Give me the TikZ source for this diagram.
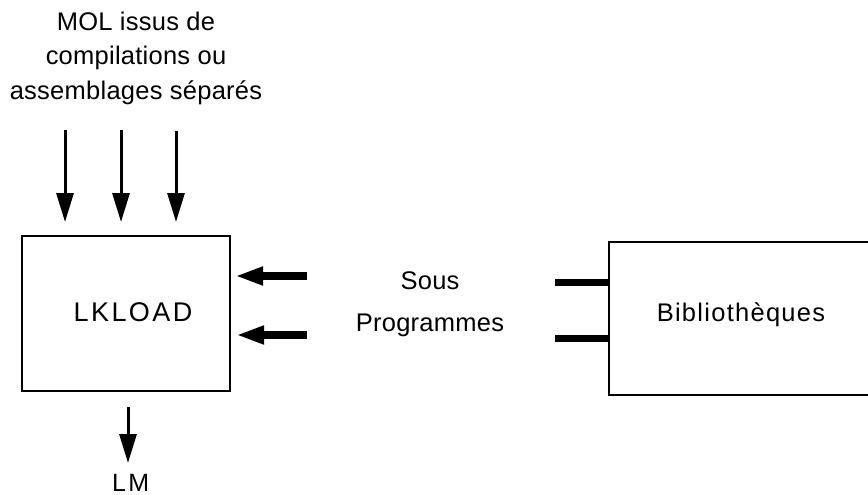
\documentclass[tikz,border=0pt]{standalone}
\usepackage{fontspec}
\setmainfont[LetterSpace=1]{Liberation Sans}
\newfontfamily\widefont[LetterSpace=9]{Liberation Sans}
\newfontfamily\midfont[LetterSpace=5]{Liberation Sans}
\usetikzlibrary{arrows.meta}
\begin{document}
\begin{tikzpicture}[x=1pt,y=-1pt,
  txt/.style={font=\fontsize{25.5}{34.5}\selectfont, inner sep=0pt, align=center},
  boxstyle/.style={draw, line width=2.6pt, inner sep=0pt},
  downarrow/.style={line width=3pt, -{Triangle[length=29pt,width=17pt]}},
  sidearrow/.style={line width=8pt, -{Triangle[length=28pt,width=17pt]}},
  barstyle/.style={line width=7pt}]
\useasboundingbox (0,0) rectangle (868,495);
% top label
\node[txt] (mol) at (136,58) {MOL issus de\\compilations ou\\assemblages séparés};
% LKLOAD box
\node[boxstyle, minimum width=208pt, minimum height=155pt] (lk) at (126,313.5) {};
\node[inner sep=0pt, font=\fontsize{27}{30}\widefont] (lkt) at (133,312) {LKLOAD};
% Bibliotheques box
\node[boxstyle, minimum width=271pt, minimum height=153pt] (bib) at (744.5,318.5) {};
\node[inner sep=0pt, font=\fontsize{25.5}{30}\midfont] (bibt) at (741,315) {Bibliothèques};
% middle label
\node[txt, font=\fontsize{25.5}{42}\selectfont] (sp) at (430,304) {Sous\\Programmes};
% top arrows
\coordinate (a1s) at (65,130); \coordinate (a1e) at (65,222);
\coordinate (a2s) at (121,130); \coordinate (a2e) at (121,222);
\coordinate (a3s) at (176,131); \coordinate (a3e) at (176,222);
\draw[downarrow] (a1s) -- (a1e);
\draw[downarrow] (a2s) -- (a2e);
\draw[downarrow] (a3s) -- (a3e);
% side arrows into LKLOAD
\coordinate (s1s) at (307,276); \coordinate (s1e) at (235,276);
\coordinate (s2s) at (307,335); \coordinate (s2e) at (236,335);
\draw[sidearrow] (s1s) -- (s1e);
\draw[sidearrow] (s2s) -- (s2e);
% bars at Bibliotheques
\coordinate (b1s) at (555,282.5);
\coordinate (b2s) at (555,338.5);
\draw[barstyle] (b1s) -- (b1s -| bib.west);
\draw[barstyle] (b2s) -- (b2s -| bib.west);
% bottom arrow
\coordinate (ls) at (128,407); \coordinate (le) at (128,463);
\draw[downarrow] (ls) -- (le);
\node[anchor=base west, inner sep=0pt, font=\fontsize{25}{28}\widefont] (lm) at (112,491) {LM};
\end{tikzpicture}
\end{document}
